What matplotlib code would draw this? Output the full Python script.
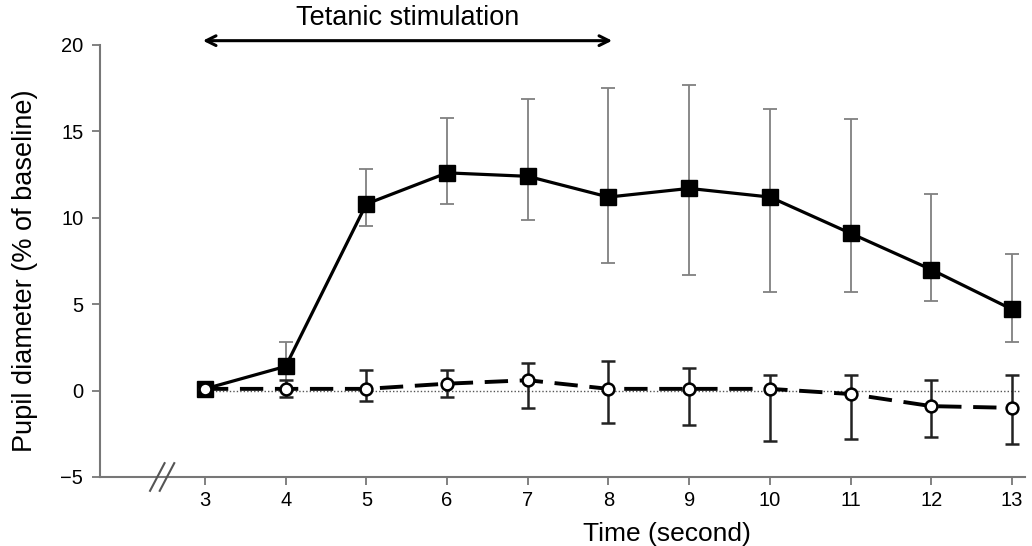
import matplotlib
matplotlib.use("Agg")
import matplotlib.pyplot as plt
import numpy as np

plt.rcParams['font.family'] = ['Liberation Sans', 'DejaVu Sans']

time = [3, 4, 5, 6, 7, 8, 9, 10, 11, 12, 13]

stim_mean = [0.1, 1.4, 10.8, 12.6, 12.4, 11.2, 11.7, 11.2, 9.1, 7.0, 4.7]
stim_upper = [0.1, 2.8, 12.8, 15.8, 16.9, 17.5, 17.7, 16.3, 15.7, 11.4, 7.9]
stim_lower = [0.1, 0.0, 9.5, 10.8, 9.9, 7.4, 6.7, 5.7, 5.7, 5.2, 2.8]

ctrl_mean = [0.1, 0.1, 0.1, 0.4, 0.6, 0.1, 0.1, 0.1, -0.2, -0.9, -1.0]
ctrl_upper = [0.1, 0.6, 1.2, 1.2, 1.6, 1.7, 1.3, 0.9, 0.9, 0.6, 0.9]
ctrl_lower = [0.1, -0.4, -0.6, -0.4, -1.0, -1.9, -2.0, -2.9, -2.8, -2.7, -3.1]

yticks = [-5, 0, 5, 10, 15, 20]
xlabel = "Time (second)"
ylabel = "Pupil diameter (% of baseline)"
arrow_label = "Tetanic stimulation"
arrow_span = (3, 8)

fig = plt.figure(figsize=(10.32, 5.46), dpi=100)
ax = fig.add_axes([0.0969, 0.1264, 0.8963, 0.7912])

t = np.array(time)
sm = np.array(stim_mean)
cm = np.array(ctrl_mean)
s_err = [sm - np.array(stim_lower), np.array(stim_upper) - sm]
c_err = [cm - np.array(ctrl_lower), np.array(ctrl_upper) - cm]

# zero reference dotted line
ax.plot([t[0], 13.1], [0, 0], color='#555555', lw=1.0, ls=(0, (1, 1.5)), zorder=1)

# stimulated series
ax.errorbar(t, sm, yerr=s_err, fmt='none', ecolor='#808080', elinewidth=1.3,
            capsize=5, capthick=1.3, zorder=2)
ax.plot(t, sm, color='black', lw=2.3, marker='s', markersize=11,
        markerfacecolor='black', markeredgecolor='black', zorder=3)

# control series
ax.errorbar(t, cm, yerr=c_err, fmt='none', ecolor='#222222', elinewidth=1.8,
            capsize=5, capthick=1.8, zorder=4)
ax.plot(t, cm, color='black', lw=2.8, ls=(0, (6, 3)), marker='o', markersize=8.5,
        markerfacecolor='white', markeredgecolor='black', markeredgewidth=1.8, zorder=5)

ax.set_xlim(1.70, 13.16)
ax.set_ylim(-5, 20)
ax.set_xticks(time)
ax.set_yticks(yticks)
ax.set_yticklabels(['\u22125' if v == -5 else str(v) for v in yticks])

for s in ['top', 'right']:
    ax.spines[s].set_visible(False)
for s in ['left', 'bottom']:
    ax.spines[s].set_color('#777777')
    ax.spines[s].set_linewidth(1.5)

ax.tick_params(axis='both', colors='#777777', labelcolor='black', labelsize=14.5,
               length=6, width=1.3, direction='out')
ax.tick_params(axis='x', pad=4)
ax.tick_params(axis='y', pad=6)

# axis labels placed as in the reference
fig.text(667 / 1032, 1 - 534 / 546, xlabel, ha='center', va='center', fontsize=19)
fig.text(25 / 1032, 1 - 271 / 546, ylabel, ha='center', va='center', fontsize=19.5,
         rotation=90)

# axis break marks
for x0 in (2.41, 2.53):
    ax.plot([x0 - 0.09, x0 + 0.09], [-5.8, -4.2], color='#555555', lw=1.5,
            clip_on=False, zorder=6)

# stimulation arrow
ax.annotate('', xy=(arrow_span[1] + 0.08, 20.25), xytext=(arrow_span[0] - 0.06, 20.25),
            arrowprops=dict(arrowstyle='<->,head_length=0.7,head_width=0.35',
                            color='black', lw=2.2),
            annotation_clip=False)
ax.text((arrow_span[0] + arrow_span[1]) / 2 + 0.01, 21.55, arrow_label, ha='center',
        va='center', fontsize=19.5, clip_on=False)

fig.savefig('out.png', dpi=100)
